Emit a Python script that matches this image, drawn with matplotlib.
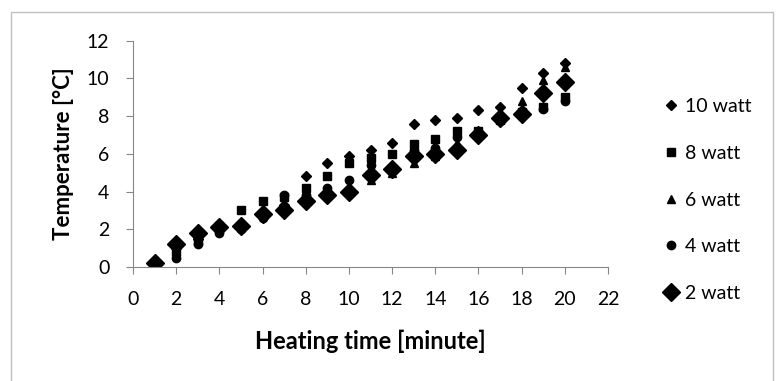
import matplotlib
matplotlib.use('Agg')
import matplotlib.pyplot as plt
from matplotlib.patches import Rectangle

minutes = list(range(1, 21))
temp_10w = [0.2, 1.0, 1.5, 2.0, 2.3, 2.7, 3.3, 4.8, 5.5, 5.9, 6.2, 6.6, 7.6, 7.8, 7.9, 8.3, 8.5, 9.5, 10.3, 10.8]
temp_8w = [0.2, 0.8, 1.4, 2.2, 3.0, 3.5, 3.7, 4.2, 4.8, 5.5, 5.8, 6.0, 6.5, 6.8, 7.2, 7.2, 7.8, 8.2, 8.5, 9.0]
temp_6w = [0.2, 0.7, 1.6, 2.0, 2.1, 2.9, 3.2, 3.6, 4.0, 4.2, 4.6, 5.0, 5.5, 5.9, 6.6, 7.1, 8.1, 8.8, 9.9, 10.6]
temp_4w = [0.2, 0.5, 1.2, 1.8, 2.0, 2.6, 3.8, 3.8, 4.2, 4.6, 5.4, 5.3, 6.2, 6.3, 6.9, 7.0, 7.9, 8.1, 8.4, 8.8]
temp_2w = [0.2, 1.2, 1.8, 2.1, 2.2, 2.8, 3.0, 3.5, 3.8, 4.0, 4.9, 5.2, 5.9, 6.0, 6.2, 7.0, 7.9, 8.1, 9.2, 9.8]

series = [
    ("10 watt", temp_10w, 'D', 5),
    ("8 watt", temp_8w, 's', 6),
    ("6 watt", temp_6w, '^', 6),
    ("4 watt", temp_4w, 'o', 6),
    ("2 watt", temp_2w, 'D', 9),
]

plt.rcParams['font.family'] = ['Lato', 'DejaVu Sans']

fig = plt.figure(figsize=(7.78, 3.81), dpi=100)
ax = fig.add_axes([133 / 778, 0.2992, 475 / 778, 0.594])

for label, vals, marker, size in series:
    ax.plot(minutes, vals, linestyle='none', marker=marker, markersize=size,
            color='black', label=label)

ax.set_xlim(0, 22)
ax.set_ylim(0, 12)
ax.set_xticks(range(0, 23, 2))
ax.set_yticks(range(0, 13, 2))
for s in ['top', 'right']:
    ax.spines[s].set_visible(False)
for s in ['left', 'bottom']:
    ax.spines[s].set_color('#868686')
ax.tick_params(colors='#868686', labelcolor='black', labelsize=14, length=5, pad=12)
ax.set_xlabel("Heating time [minute]", fontsize=17, fontweight='bold', labelpad=16)
ax.set_ylabel("Temperature [°C]", fontsize=16, fontweight='bold', labelpad=9)

fig.legend(loc='center left', bbox_to_anchor=(661 / 778, 0.475), frameon=False,
           fontsize=14, handletextpad=0.24, labelspacing=1.53, handlelength=1.0,
           borderpad=0, borderaxespad=0)

fig.patches.append(Rectangle((0.014, -0.01), 0.98, 0.978, transform=fig.transFigure,
                             fill=False, edgecolor='#bfbfbf', linewidth=1))

fig.savefig('out.png', dpi=100)
